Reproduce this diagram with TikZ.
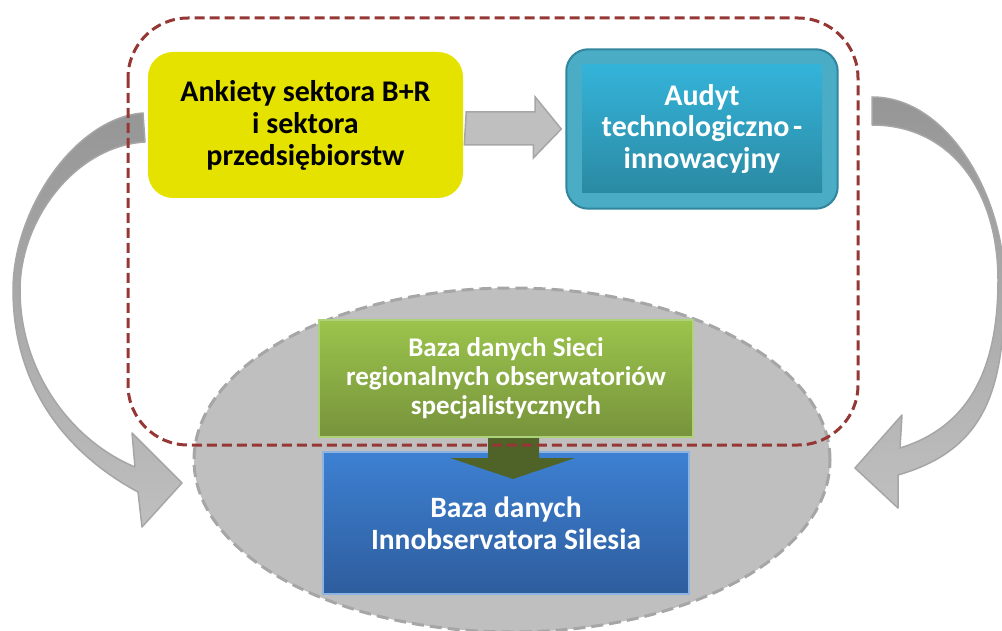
\documentclass[tikz,border=0pt]{standalone}
\usepackage{fontspec}
\setmainfont{Carlito}
\usepackage{xcolor}
\definecolor{innored}{HTML}{953735}
\definecolor{innoyellow}{HTML}{E6E200}
\definecolor{innoteal}{HTML}{4BACC6}
\definecolor{innotealline}{HTML}{31859C}
\definecolor{innotealtop}{HTML}{34B3D9}
\definecolor{innotealbottom}{HTML}{2B8AA3}
\definecolor{innogreentop}{HTML}{9BC44C}
\definecolor{innogreenbottom}{HTML}{77933C}
\definecolor{innogreenline}{HTML}{ADD27A}
\definecolor{innobluetop}{HTML}{3D80D2}
\definecolor{innobluebottom}{HTML}{2E5D9D}
\definecolor{innoblueline}{HTML}{8DB3E2}
\definecolor{innogrey}{HTML}{BFBFBF}
\definecolor{innogreydark}{HTML}{969696}
\definecolor{innogreyline}{HTML}{A6A6A6}
\definecolor{innoolive}{HTML}{4F6228}
\usetikzlibrary{shapes.geometric, positioning, fit, backgrounds}

\begin{document}
\begin{tikzpicture}[
  x=1pt, y=-1pt,
  box/.style={rectangle, align=center, inner sep=0pt, font=\bfseries},
  greyarrow/.style={top color=innogreydark, bottom color=innogrey,
    draw=innogreyline, line width=1.5pt, line join=round},
  blockarrow/.style={fill=innogrey, draw=innogreyline, line width=1.5pt},
  frame/.style={draw=innored, line width=3pt, dash pattern=on 10pt off 5pt,
    rounded corners=60pt}
]
\useasboundingbox (0,0) rectangle (1002,631);

% grey pool behind the databases
\node[ellipse, fill=innogrey, draw=innogreyline, line width=3pt,
  dash pattern=on 12pt off 6pt, minimum width=636pt, minimum height=344pt]
  (pool) at (512,460) {};

% curved feedback arrows
\shadedraw[greyarrow] (143,113) .. controls (75,118) and (13,210) .. (13,290)
  .. controls (13,380) and (60,450) .. (138,492) -- (142,527) -- (182,483)
  -- (132,433) -- (135,467) .. controls (70,440) and (20,370) .. (20,290)
  .. controls (20,220) and (75,146) .. (145,142) -- cycle;
\shadedraw[greyarrow] (872,97) .. controls (950,97) and (1004,200) .. (1004,280)
  .. controls (1006,390) and (985,450) .. (898,475) -- (898,508) -- (855,468)
  -- (902,415) -- (900,448) .. controls (975,425) and (998,360) .. (998,280)
  .. controls (998,190) and (950,125) .. (872,125) -- cycle;

\node[box, fill=innoyellow, text=black, rounded corners=25pt,
  minimum width=315pt, minimum height=146pt,
  font=\bfseries\fontsize{30}{32}\selectfont] (ankiety) at (305.5,125)
  {Ankiety sektora B+R\\i sektora\\przedsiębiorstw};

\node[box, top color=innotealtop, bottom color=innotealbottom, text=white,
  minimum width=240pt, minimum height=128pt,
  font=\bfseries\fontsize{30}{31.5}\selectfont] (audit) at (702,129)
  {Audyt\\technologiczno\hspace{0.12em}-\\innowacyjny};
\begin{scope}[on background layer]
\node[fit=(audit), inner sep=15.5pt, rounded corners=22pt, fill=innoteal,
  draw=innotealline, line width=2pt] (auditframe) {};
\end{scope}

\coordinate (midtail) at ([xshift=3pt, yshift=-3pt]ankiety.east);
\coordinate (midtip) at ([xshift=-4pt]auditframe.west);
\draw[blockarrow] (midtail) ++(0,-16) -- ++(69,0) -- ++(0,-15) -- (midtip)
  -- ++(-28,29) -- ++(0,-13) -- ++(-69,0) -- cycle;

\node[box, top color=innogreentop, bottom color=innogreenbottom,
  draw=innogreenline, line width=2pt, text=white,
  minimum width=374pt, minimum height=117pt,
  font=\bfseries\fontsize{27}{29}\selectfont] (sieci) at (506,378.5)
  {Baza danych Sieci\\regionalnych obserwatoriów\\specjalistycznych};

\node[box, top color=innobluetop, bottom color=innobluebottom,
  draw=innoblueline, line width=2pt, text=white,
  minimum width=366pt, minimum height=142pt, below=13pt of sieci,
  font=\bfseries\fontsize{29.5}{32}\selectfont] (bazainno)
  {Baza danych\\Innobservatora Silesia};

\coordinate (downtail) at ([xshift=7pt]sieci.south);
\fill[innoolive] (downtail) ++(-25,0) -- ++(51,0) -- ++(0,20) -- ++(36,0)
  -- ++(-62,21) -- ++(-63,-21) -- ++(38,0) -- cycle;

% dashed frame round the survey part
\draw[frame] (128,18) rectangle (858,445);
\end{tikzpicture}
\end{document}
